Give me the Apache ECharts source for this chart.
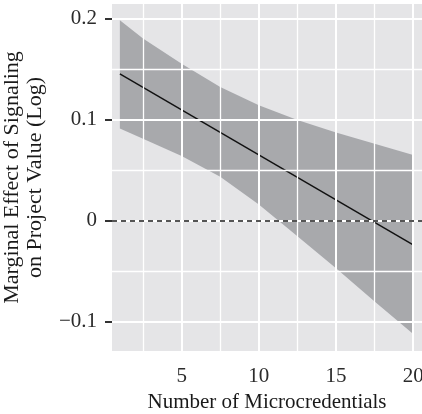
<!DOCTYPE html>
<html>
<head>
<meta charset="utf-8">
<script src="https://cdn.jsdelivr.net/npm/echarts@6/dist/echarts.min.js"></script>
<style>
html,body{margin:0;padding:0;background:#fff;overflow:hidden;}
#c{width:422px;height:414px;}
</style>
</head>
<body>
<div id="c"></div>
<script>
// ---- data ----
const xTicks = [5, 10, 15, 20];
const xMinor = [2.5, 7.5, 12.5, 17.5];
const yTicks = [-0.1, 0, 0.1, 0.2];
const yTickLabels = ['\u22120.1', '0', '0.1', '0.2'];
const yMinor = [-0.05, 0.05, 0.15];
const bandX = [1, 2.5, 5, 7.5, 10, 12.5, 15, 17.5, 20];
const bandUpper = [0.198, 0.180, 0.155, 0.132, 0.114, 0.0995, 0.087, 0.076, 0.065];
const bandLower = [0.091, 0.081, 0.064, 0.0435, 0.016, -0.0155, -0.047, -0.080, -0.112];
const lineX = [1, 20];
const lineY = [0.145, -0.024];
const refY = 0;
const xTitle = 'Number of Microcredentials';
const yTitle = 'Marginal Effect of Signaling\non Project Value (Log)';

const FONT = 'Liberation Serif';
const chart = echarts.init(document.getElementById('c'), null, {renderer: 'canvas'});

const gridMarks = []
  .concat(xMinor.map(v => ({xAxis: v, lineStyle: {width: 1.3}})))
  .concat(yMinor.map(v => ({yAxis: v, lineStyle: {width: 1.3}})))
  .concat(xTicks.map(v => ({xAxis: v, lineStyle: {width: 2}})))
  .concat(yTicks.map(v => ({yAxis: v, lineStyle: {width: 2}})));

const bandData = bandX.map((x, i) => [x, bandLower[i], bandUpper[i]]);

chart.setOption({
  animation: false,
  grid: {left: 112, top: 4, right: 0, bottom: 63, show: true, backgroundColor: '#e5e5e7', borderWidth: 0,
    containLabel: false, outerBoundsMode: 'none'},
  xAxis: {
    type: 'value', min: 0.49, max: 20.57,
    axisLine: {show: false},
    splitLine: {show: false},
    axisTick: {show: true, customValues: xTicks, length: 7, lineStyle: {color: '#333', width: 2}},
    axisLabel: {customValues: xTicks, margin: 15, color: '#2b2b2b', fontFamily: FONT, fontSize: 21, hideOverlap: false},
    name: xTitle, nameLocation: 'middle', nameGap: 41,
    nameTextStyle: {color: '#1a1a1a', fontFamily: FONT, fontSize: 21}
  },
  yAxis: {
    type: 'value', min: -0.1288, max: 0.2141,
    axisLine: {show: false},
    splitLine: {show: false},
    axisTick: {show: true, customValues: yTicks, length: 7, lineStyle: {color: '#333', width: 2}},
    axisLabel: {customValues: yTicks, margin: 15, color: '#2b2b2b', fontFamily: FONT, fontSize: 21, hideOverlap: false,
      formatter: v => { const i = yTicks.findIndex(t => Math.abs(t - v) < 1e-9); return i >= 0 ? yTickLabels[i] : ''; }},
    name: yTitle, nameLocation: 'middle', nameGap: 65, nameRotate: 90,
    nameTextStyle: {color: '#1a1a1a', fontFamily: FONT, fontSize: 22, lineHeight: 23}
  },
  series: [
    {
      type: 'line', data: [], z: 1, silent: true,
      markLine: {silent: true, symbol: 'none', label: {show: false}, animation: false,
        lineStyle: {color: '#ffffff', type: 'solid'}, data: gridMarks}
    },
    {
      type: 'custom', z: 2, silent: true,
      data: bandData,
      encode: {x: 0, y: [1, 2]},
      renderItem: function (params, api) {
        if (params.dataIndex !== 0) return null;
        const pts = [];
        for (let i = 0; i < bandX.length; i++) pts.push(api.coord([bandX[i], bandUpper[i]]));
        for (let i = bandX.length - 1; i >= 0; i--) pts.push(api.coord([bandX[i], bandLower[i]]));
        return {type: 'polygon', shape: {points: pts}, style: {fill: 'rgba(112,114,118,0.52)', stroke: null}};
      }
    },
    {
      type: 'line', z: 3, silent: true, symbol: 'none',
      data: lineX.map((x, i) => [x, lineY[i]]),
      lineStyle: {color: '#111', width: 1.4}
    },
    {
      type: 'line', data: [], z: 4, silent: true,
      markLine: {silent: true, symbol: 'none', label: {show: false}, animation: false,
        lineStyle: {color: '#555', type: [5, 4], width: 2}, data: [{yAxis: refY}]}
    }
  ]
});
</script>
</body>
</html>
